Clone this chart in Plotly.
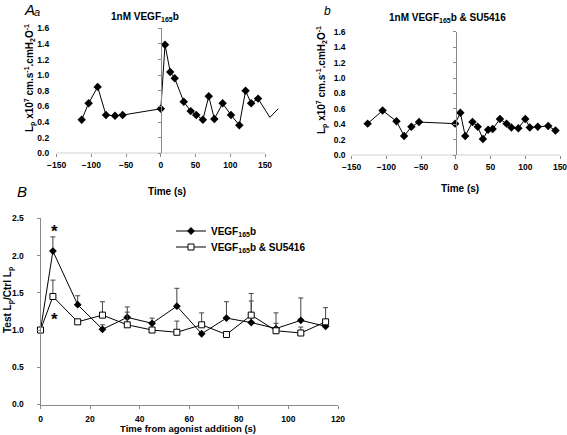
import plotly.graph_objects as go

# ---------------- data ----------------
# Panel Aa: 1nM VEGF165b
aa_time = [-114, -104, -91, -79, -66, -55, 0, 6, 13.5, 20, 33, 43, 51, 60.5, 69, 77, 89,
           101, 113, 122, 130, 140, 157, 169]
aa_lp = [0.43, 0.64, 0.85, 0.49, 0.48, 0.49, 0.57, 1.39, 1.04, 0.96, 0.66, 0.54, 0.49,
         0.43, 0.73, 0.44, 0.64, 0.49, 0.36, 0.80, 0.64, 0.70, 0.46, 0.57]
aa_has_marker = [True] * 22 + [False, False]

# Panel b: 1nM VEGF165b & SU5416
b_time = [-127, -105.5, -85.5, -74.5, -64, -53, -1, 6.5, 13.5, 24, 31.5, 39, 46.5, 53,
          63.5, 73, 80, 90, 100, 106.5, 118, 133, 143.5]
b_lp = [0.41, 0.58, 0.44, 0.25, 0.37, 0.43, 0.41, 0.55, 0.25, 0.43, 0.37, 0.21, 0.33,
        0.34, 0.47, 0.41, 0.36, 0.35, 0.47, 0.36, 0.37, 0.38, 0.32]

# Panel B: normalised Lp
b2_time = [0, 5, 15, 25, 35, 45, 55, 65, 75, 85, 95, 105, 115]
vegf_ratio = [1.0, 2.06, 1.34, 1.01, 1.17, 1.09, 1.32, 0.95, 1.16, 1.10, 1.02, 1.13, 1.05]
vegf_err = [0, 0.19, 0.12, 0.06, 0.14, 0.07, 0.24, 0.0, 0.22, 0.29, 0.07, 0.30, 0.0]
su_ratio = [1.0, 1.45, 1.11, 1.20, 1.07, 1.0, 0.97, 1.07, 0.94, 1.20, 0.99, 0.96, 1.11]
su_err = [0, 0.22, 0.0, 0.18, 0.17, 0.0, 0.15, 0.16, 0.0, 0.29, 0.24, 0.08, 0.19]

star_x = [5.8, 5.6]
star_y = [2.37, 1.20]

top_ticks = [-150, -100, -50, 0, 50, 100, 150]
top_yticks = [0.0, 0.2, 0.4, 0.6, 0.8, 1.0, 1.2, 1.4, 1.6]
bot_xticks = [0, 20, 40, 60, 80, 100, 120]
bot_yticks = [0.0, 0.5, 1.0, 1.5, 2.0, 2.5]

# ---------------- styling ----------------
FONT = "Liberation Sans"
AXGRAY = "#8a8a8a"
W, H = 567, 435

def fx(px):
    return px / W

def fy(py):
    return 1 - py / H

tickfont = dict(family=FONT, size=8.5, color="black", weight="bold")

fig = go.Figure()

# Panel Aa (line through all points, markers only on measured ones)
fig.add_trace(go.Scatter(
    x=aa_time, y=aa_lp, mode="lines", xaxis="x", yaxis="y",
    line=dict(color="black", width=1), showlegend=False))
fig.add_trace(go.Scatter(
    x=[t for t, m in zip(aa_time, aa_has_marker) if m],
    y=[v for v, m in zip(aa_lp, aa_has_marker) if m],
    mode="markers", xaxis="x", yaxis="y",
    marker=dict(symbol="diamond", color="black", size=6.5),
    showlegend=False, cliponaxis=False))
# Panel b
fig.add_trace(go.Scatter(
    x=b_time, y=b_lp, mode="lines+markers", xaxis="x2", yaxis="y2",
    line=dict(color="black", width=1),
    marker=dict(symbol="diamond", color="black", size=6.5),
    showlegend=False, cliponaxis=False))
# dummy traces for the x=0 vertical axes
fig.add_trace(go.Scatter(x=[None], y=[None], xaxis="x", yaxis="y4", showlegend=False))
fig.add_trace(go.Scatter(x=[None], y=[None], xaxis="x2", yaxis="y5", showlegend=False))

# Panel B
fig.add_trace(go.Scatter(
    x=b2_time, y=vegf_ratio, mode="lines+markers", xaxis="x3", yaxis="y3",
    name="VEGF<sub>165</sub>b", legend="legend",
    line=dict(color="black", width=1),
    marker=dict(symbol="diamond", color="black", size=6),
    error_y=dict(type="data", array=vegf_err, arrayminus=[0] * len(vegf_err),
                 symmetric=False, color="#444", thickness=1, width=2.5),
    cliponaxis=False))
fig.add_trace(go.Scatter(
    x=b2_time, y=su_ratio, mode="lines+markers", xaxis="x3", yaxis="y3",
    name="VEGF<sub>165</sub>b & SU5416", legend="legend2",
    line=dict(color="black", width=1),
    marker=dict(symbol="square", color="white", size=6,
                line=dict(color="black", width=1)),
    error_y=dict(type="data", array=su_err, arrayminus=[0] * len(su_err),
                 symmetric=False, color="#444", thickness=1, width=2.5),
    cliponaxis=False))

# domains
aa_x = [fx(53.2), fx(278.9)]
aa_y = [fy(153.3), fy(28.3)]
b_x = [fx(349.6), fx(561.4)]
b_y = [fy(155.3), fy(31.7)]
B_x = [fx(40.5), fx(338)]
B_y = [fy(404.5), fy(218.3)]

aa_range = [-155, 170]
b_range = [-153, 152]

def zero_pos(dom, rng):
    return dom[0] + (0 - rng[0]) / (rng[1] - rng[0]) * (dom[1] - dom[0])

top_x_common = dict(tickvals=top_ticks, ticks="outside", ticklen=3, tickcolor=AXGRAY,
                    showline=False, showgrid=False, zeroline=False, tickfont=tickfont,
                    ticklabelstandoff=0, automargin=False, ticklabeloverflow="allow")
top_y_common = dict(range=[0, 1.6], tickvals=top_yticks, tickformat=".1f", ticks="",
                    showline=False, showgrid=False, zeroline=False, tickfont=tickfont,
                    ticklabelstandoff=3, automargin=False, ticklabeloverflow="allow")
zero_axis = dict(range=[0, 1.6], tickvals=top_yticks, ticks="outside", ticklen=3,
                 tickcolor=AXGRAY, showticklabels=False, showline=True, linecolor=AXGRAY,
                 linewidth=1, showgrid=False, zeroline=False, anchor="free",
                 automargin=False)

legfont = dict(family=FONT, size=10, color="black", weight="bold")

fig.update_layout(
    template="none",
    width=W, height=H, margin=dict(l=0, r=0, t=0, b=0, pad=0, autoexpand=False),
    paper_bgcolor="white", plot_bgcolor="white",
    font=dict(family=FONT, color="black"),
    xaxis=dict(domain=aa_x, range=aa_range, anchor="y", **top_x_common),
    yaxis=dict(domain=aa_y, anchor="x", **top_y_common),
    xaxis2=dict(domain=b_x, range=b_range, anchor="y2", **top_x_common),
    yaxis2=dict(domain=b_y, anchor="x2", **top_y_common),
    yaxis4=dict(overlaying="y", position=zero_pos(aa_x, aa_range), **zero_axis),
    yaxis5=dict(overlaying="y2", position=zero_pos(b_x, b_range), **zero_axis),
    xaxis3=dict(domain=B_x, range=[0, 120], anchor="y3", tickvals=bot_xticks,
                ticks="outside", ticklen=3, tickcolor=AXGRAY, showline=True,
                linecolor=AXGRAY, linewidth=1, showgrid=False, zeroline=False,
                tickfont=tickfont, ticklabelstandoff=3, automargin=False,
                ticklabeloverflow="allow"),
    yaxis3=dict(domain=B_y, range=[0, 2.5], anchor="x3", tickvals=bot_yticks,
                tickformat=".1f", ticks="outside", ticklen=3, tickcolor=AXGRAY,
                showline=True, linecolor=AXGRAY, linewidth=1, showgrid=False,
                zeroline=False, tickfont=tickfont, ticklabelstandoff=11,
                automargin=False, ticklabeloverflow="allow"),
    legend=dict(x=fx(171), y=fy(231), xanchor="left", yanchor="middle",
                bgcolor="rgba(0,0,0,0)", font=legfont, itemwidth=30, borderwidth=0),
    legend2=dict(x=fx(171), y=fy(247), xanchor="left", yanchor="middle",
                 bgcolor="rgba(0,0,0,0)", font=legfont, itemwidth=30, borderwidth=0),
)

# x-axis baselines spanning -150..150
for xa, ya in (("x", "y"), ("x2", "y2")):
    fig.add_shape(type="line", xref=xa, yref=ya, x0=top_ticks[0], x1=top_ticks[-1],
                  y0=0, y1=0, line=dict(color=AXGRAY, width=1))

bold10 = dict(family=FONT, size=10, color="black", weight="bold")
ann = []
# panel letters
ann.append(dict(text="<i>A</i>", x=fx(29), y=fy(10), font=dict(family=FONT, size=15)))
ann.append(dict(text="<i>a</i>", x=fx(37), y=fy(12), font=dict(family=FONT, size=11)))
ann.append(dict(text="<i>b</i>", x=fx(327), y=fy(11), font=dict(family=FONT, size=12)))
ann.append(dict(text="<i>B</i>", x=fx(22), y=fy(191), font=dict(family=FONT, size=15)))
# titles
ann.append(dict(text="1nM VEGF<sub>165</sub>b", x=fx(145), y=fy(17), font=bold10))
ann.append(dict(text="1nM VEGF<sub>165</sub>b & SU5416", x=fx(447), y=fy(18), font=bold10))
# y titles
ytitle = "L<sub>p</sub> x10<sup>7</sup> cm.s<sup>-1</sup>.cmH<sub>2</sub>O<sup>-1</sup>"
ann.append(dict(text=ytitle, x=fx(30), y=fy(78), textangle=-90, font=bold10))
ann.append(dict(text=ytitle, x=fx(322), y=fy(80), textangle=-90, font=bold10))
ann.append(dict(text="Test L<sub>p</sub>/Ctrl L<sub>p</sub>", x=fx(8), y=fy(300),
                textangle=-90, font=bold10))
# x titles
ann.append(dict(text="Time (s)", x=fx(167), y=fy(191), font=bold10))
ann.append(dict(text="Time (s)", x=fx(460), y=fy(188), font=bold10))
ann.append(dict(text="Time from agonist addition (s)", x=fx(188), y=fy(428),
                font=dict(family=FONT, size=9.5, color="black", weight="bold")))
for a in ann:
    a.update(xref="paper", yref="paper", showarrow=False, xanchor="center", yanchor="middle")
    fig.add_annotation(**a)

# significance stars
for sx, sy in zip(star_x, star_y):
    fig.add_annotation(text="*", x=sx, y=sy, xref="x3", yref="y3", showarrow=False,
                       yshift=-4, font=dict(family=FONT, size=17, color="black", weight="bold"))

fig.write_html("out.html", config={"displayModeBar": False},
               post_script="document.body.style.margin='0';")
